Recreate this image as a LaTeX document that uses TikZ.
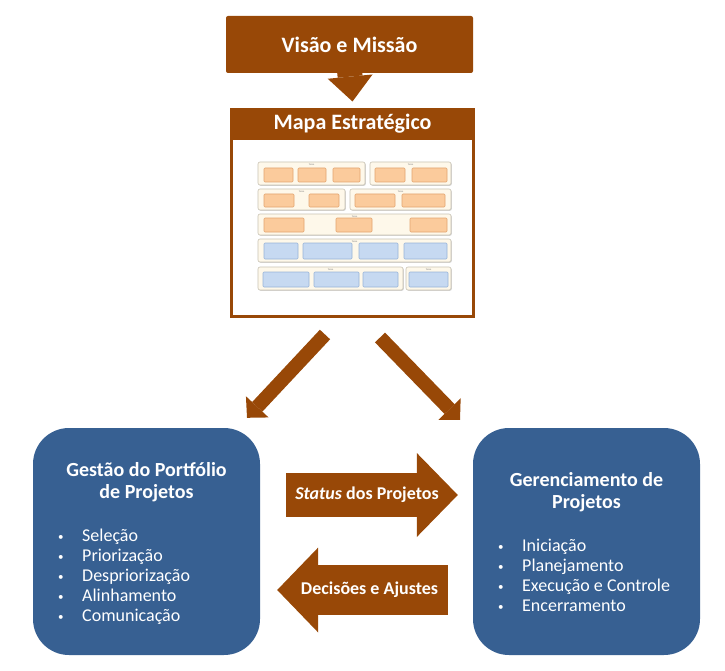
\documentclass[tikz,border=0pt]{standalone}
\usepackage{fontspec}
\setmainfont{Carlito}
\usetikzlibrary{arrows.meta,shadows}
\definecolor{brownC}{HTML}{984807}
\definecolor{blueC}{HTML}{376092}
\definecolor{creamC}{HTML}{FEF8EA}
\definecolor{creamD}{HTML}{C9C3B3}
\definecolor{orangeC}{HTML}{FBCB9C}
\definecolor{orangeD}{HTML}{E3A470}
\definecolor{lblueC}{HTML}{C6D9F1}
\definecolor{lblueD}{HTML}{98B4D8}
\newcommand{\itm}[1]{\makebox[24pt][l]{\raisebox{1pt}{\fontsize{11}{11}\selectfont\textbullet}}#1}

\begin{document}
\begin{tikzpicture}[x=1pt,y=-1pt]
\tikzset{brownbox/.style = {rectangle,fill=brownC,text=white,font=\bfseries\fontsize{22}{26}\selectfont},
  bluebox/.style = {rectangle,rounded corners=36pt,fill=blueC,minimum width=227pt,minimum height=227pt},
  boxtitle/.style = {text=white,align=center,font=\bfseries\fontsize{20}{22}\selectfont},
  itemtxt/.style = {text=white,anchor=base west,inner sep=0pt,font=\fontsize{18}{20}\selectfont},
  blockarrow/.style = {draw=brownC},
  arrowlabel/.style = {text=white,font=\bfseries\fontsize{18}{20}\selectfont},
  mgroup/.style = {draw=creamD,fill=creamC,line width=0.6pt,rounded corners=2pt,
    drop shadow={shadow xshift=0.8pt,shadow yshift=-0.8pt,opacity=0.35}},
  mcell/.style = {draw=orangeD,fill=orangeC,line width=0.6pt,rounded corners=1pt},
  mcellb/.style = {draw=lblueD,fill=lblueC,line width=0.6pt,rounded corners=1pt},
  tema/.style = {inner sep=0pt,text=gray,font=\fontsize{2.5}{3}\selectfont}}
\useasboundingbox (0,0) rectangle (725,671);

% topo
\node[brownbox,rounded corners=2pt,minimum width=247pt,minimum height=57pt] (visao) at (349.5,44.5) {Visão e Missão};
\node[rectangle,draw=brownC,line width=3pt,fill=white,minimum width=242pt,minimum height=207pt] (mapa) at (352.5,213) {};
\fill[brownC] (mapa.north west) rectangle (mapa.east |- 0,140);
\node[text=white,font=\bfseries\fontsize{22}{26}\selectfont] (mapaT) at (352.5,124) {Mapa Estratégico};

% mapa estrategico
\foreach \xa/\xb/\ya/\yb in {258/365/162/185,370/451/162/185,258/345/189/210,350/451/189/210,
    258/451/214/235,258/451/239/262,258/403/267/290,406/451/267/290}{
  \draw[mgroup] (\xa,\ya) rectangle (\xb,\yb);
  \node[tema] at ({(\xa+\xb)/2},{\ya+2.5}) {Tema};
}
\foreach \xa/\xb/\ya/\yb in {264/293/168/182,298/326/168/182,333/360/168/182,375/405/168/182,412/447/168/182,
    264/294/194/207,309/339/194/207,355/395/194/207,402/445/194/207,
    264/304/218/232,336/372/218/232,410/447/218/232}
  \draw[mcell] (\xa,\ya) rectangle (\xb,\yb);
\foreach \xa/\xb/\ya/\yb in {264/298/243/259,303/352/243/259,359/398/243/259,404/447/243/259,
    263/309/272/287,314/359/272/287,363/398/272/287,409/448/272/287}
  \draw[mcellb] (\xa,\ya) rectangle (\xb,\yb);

% caixas azuis
\node[bluebox] (gestao) at (146.5,541.5) {};
\node[bluebox] (gerenc) at (586.5,541.5) {};
\node[boxtitle] (gestaoT) at ([yshift=-54pt]gestao.north) {Gestão do Portfólio\\de Projetos};
\node[boxtitle] (gerencT) at ([yshift=-64pt]gerenc.north) {Gerenciamento de\\Projetos};
\foreach \t [count=\i] in {Seleção,Priorização,Despriorização,Alinhamento,Comunicação}
  \node[itemtxt] (gi\i) at (58,{521+20*\i}) {\itm{\t}};
\foreach \t [count=\i] in {Iniciação,Planejamento,Execução e Controle,Encerramento}
  \node[itemtxt] (ri\i) at (498,{531+20*\i}) {\itm{\t}};

% setas
\coordinate (pl1) at ([xshift=-27.5pt,yshift=-16.5pt]mapa.south);
\coordinate (pl2) at ([xshift=100.5pt,yshift=10pt]gestao.north);
\coordinate (pr1) at ([xshift=27.5pt,yshift=-19.5pt]mapa.south);
\coordinate (pr2) at ([xshift=-126.5pt,yshift=8pt]gerenc.north);
\coordinate (ps1) at ([xshift=26pt,yshift=46.5pt]gestao.east);
\coordinate (ps2) at ([xshift=-15pt,yshift=46.5pt]gerenc.west);
\coordinate (pd1) at ([xshift=-25pt,yshift=-48.5pt]gerenc.west);
\coordinate (pd2) at ([xshift=17pt,yshift=-48.5pt]gestao.east);

\draw[blockarrow,line width=25pt,-{Triangle[length=25pt,width=45pt,line width=0pt]}] ([yshift=3pt]visao.south) -- ([yshift=6.5pt]mapa.north);
\draw[blockarrow,line width=14pt,-{Triangle[length=15pt,width=31pt,line width=0pt]}] (pl1) -- (pl2);
\draw[blockarrow,line width=14pt,-{Triangle[length=15pt,width=31pt,line width=0pt]}] (pr1) -- (pr2);
\draw[blockarrow,line width=44pt,-{Triangle[length=41pt,width=84pt,line width=0pt]}] (ps1) -- (ps2)
  node[midway,arrowlabel,xshift=-5pt] (statusL) {\textit{Status} dos Projetos};
\draw[blockarrow,line width=50pt,-{Triangle[length=41pt,width=85pt,line width=0pt]}] (pd1) -- (pd2)
  node[midway,arrowlabel,xshift=7pt] (decisL) {Decisões e Ajustes};
\end{tikzpicture}
\end{document}
